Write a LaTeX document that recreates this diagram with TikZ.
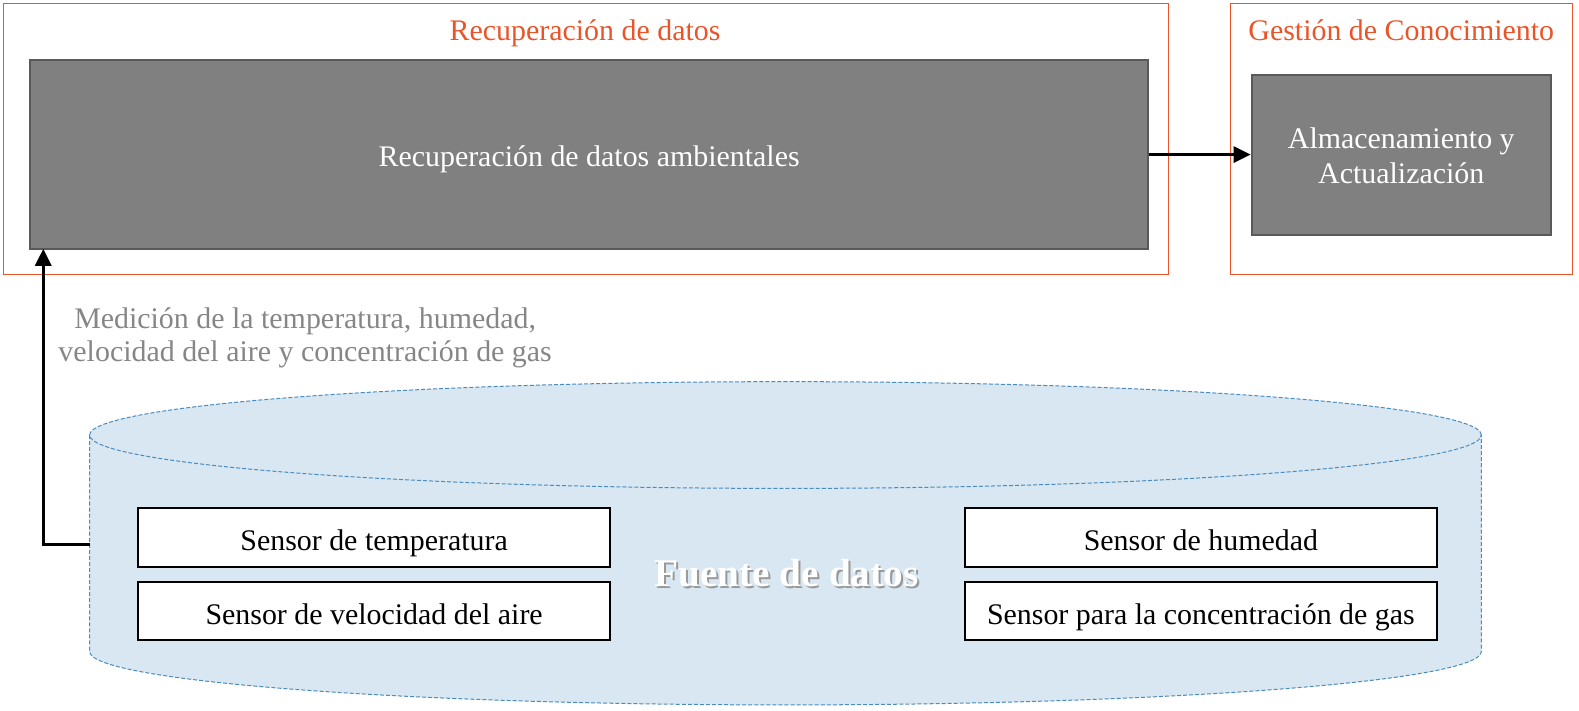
\documentclass[tikz,border=0pt]{standalone}
\usepackage{fontspec}
\setmainfont{Liberation Serif}
\usetikzlibrary{positioning, arrows.meta, calc}
\definecolor{naranja}{RGB}{234,84,40}
\definecolor{grisclaro}{RGB}{128,128,128}
\definecolor{grisborde}{RGB}{89,89,89}
\definecolor{gristexto}{RGB}{134,134,134}
\definecolor{azulfondo}{RGB}{216,231,241}
\definecolor{azulborde}{RGB}{75,140,190}

\begin{document}
\begin{tikzpicture}[x=1pt, y=-1pt, font=\fontsize{29.7}{34.7}\selectfont,
  marco/.style={draw=naranja, line width=1pt},
  titulo/.style={text=naranja, inner sep=0pt, anchor=base},
  caja/.style={draw=grisborde, fill=grisclaro, line width=2pt, text=white, align=center, inner sep=0pt},
  sensor/.style={draw=black, fill=white, line width=2pt, minimum width=469pt, minimum height=58pt,
    inner sep=0pt, text height=26.5pt, text depth=0pt},
  cilindro/.style={azulborde, line width=1pt, dash pattern=on 4pt off 2pt},
  flecha/.style={-{Triangle[length=17pt,width=16pt]}, line width=3pt}]
\useasboundingbox (0,0) rectangle (1568,706);
% marcos
\draw[marco] (3,3) rectangle (1160,273);
\draw[marco] (1222,3) rectangle (1562,273);
\node[titulo] (tit1) at (581,40.7) {Recuperación de datos};
\node[titulo] (tit2) at (1391.5,40.7) {Gestión de Conocimiento};
% cajas
\node[caja, minimum width=1110pt, minimum height=187pt, text height=22.8pt, text depth=0pt] (recup) at (585,153.5) {Recuperación de datos ambientales};
\node[caja, minimum width=297pt, minimum height=159pt, text height=57pt, text depth=0pt] (alma) at (1391.5,153.5) {Almacenamiento y\\Actualización};
\draw[flecha] (recup.east) -- (alma.west);
% cilindro
\fill[azulfondo] (89,432) -- (89,647) arc[start angle=180, end angle=360, x radius=691pt, y radius=53pt] -- (1471,432) -- cycle;
\fill[azulfondo] (780,432) ellipse [x radius=691pt, y radius=53pt];
\draw[cilindro] (89,432) -- (89,647) arc[start angle=180, end angle=360, x radius=691pt, y radius=53pt] -- (1471,432);
\draw[cilindro] (780,432) ellipse [x radius=691pt, y radius=53pt];
\node[text=black!40, anchor=base, font=\bfseries\fontsize{39}{44}\selectfont] (sombra) at (783,584) {Fuente de datos};
\node[text=white, anchor=base, font=\bfseries\fontsize{39}{44}\selectfont] (fuente-texto) at (781,582) {Fuente de datos};
% sensores
\node[sensor] (temp) at (371.5,533.6) {Sensor de temperatura};
\node[sensor, below=13.2pt of temp] (aire) {Sensor de velocidad del aire};
\node[sensor] (hum) at (1192.5,533.6) {Sensor de humedad};
\node[sensor, below=13.2pt of hum] (gas) {Sensor para la concentración de gas};
% conexion
\coordinate (fuente) at (89,541);
\coordinate (entrada) at (43,247);
\draw[flecha] (fuente) -| (entrada);
\node[text=gristexto, align=center, anchor=base, font=\fontsize{29.7}{33}\selectfont] (medicion) at (303,359) {Medición de la temperatura, humedad,\\velocidad del aire y concentración de gas};
\end{tikzpicture}
\end{document}
